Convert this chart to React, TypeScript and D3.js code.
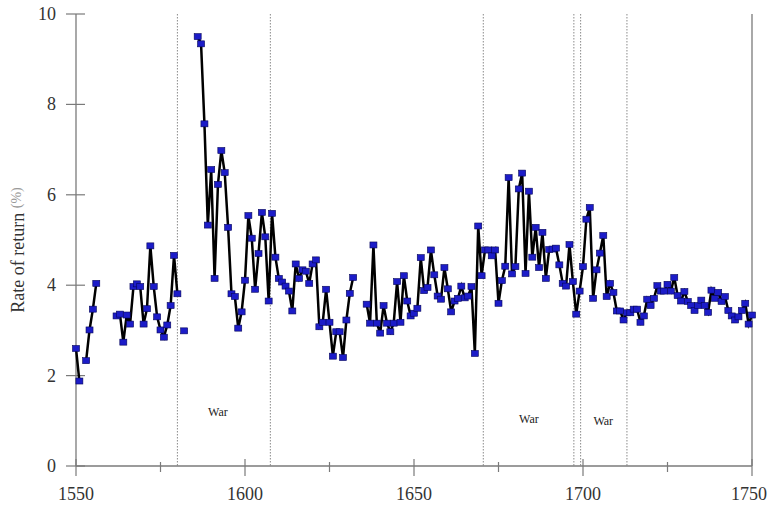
import React, { useRef, useEffect } from 'react';
import * as d3 from 'd3';

// yearly rate of return (%), first year 1550, null = no observation
const firstYear = 1550;
const rates: (number | null)[] = [
  2.60, 1.88, null, 2.33, 3.01, 3.47, 4.04, null, null, null, // 1550-1559
  null, null, 3.32, 3.36, 2.74, 3.34, 3.14, 3.97, 4.03, 3.97, // 1560-1569
  3.14, 3.48, 4.87, 3.97, 3.30, 3.01, 2.85, 3.12, 3.55, 4.66, // 1570-1579
  3.81, null, 2.99, null, null, null, 9.50, 9.34, 7.57, 5.33, // 1580-1589
  6.56, 4.15, 6.23, 6.98, 6.49, 5.28, 3.81, 3.75, 3.05, 3.41, // 1590-1599
  4.11, 5.54, 5.04, 3.91, 4.70, 5.61, 5.07, 3.65, 5.59, 4.62, // 1600-1609
  4.15, 4.07, 3.98, 3.87, 3.43, 4.47, 4.15, 4.34, 4.31, 4.04, // 1610-1619
  4.47, 4.56, 3.08, 3.18, 3.91, 3.18, 2.43, 2.97, 2.97, 2.40, // 1620-1629
  3.23, 3.82, 4.17, null, null, null, 3.58, 3.16, 4.89, 3.16, // 1630-1639
  2.94, 3.55, 3.16, 2.97, 3.16, 4.08, 3.18, 4.21, 3.65, 3.32, // 1640-1649
  3.38, 3.49, 4.61, 3.88, 3.95, 4.78, 4.23, 3.76, 3.69, 4.39, // 1650-1659
  3.92, 3.41, 3.65, 3.71, 3.98, 3.72, 3.76, 3.97, 2.49, 5.31, // 1660-1669
  4.21, 4.78, 4.78, 4.65, 4.78, 3.60, 4.10, 4.42, 6.38, 4.25, // 1670-1679
  4.41, 6.13, 6.48, 4.26, 6.08, 4.62, 5.28, 4.39, 5.17, 4.15, // 1680-1689
  4.79, 4.80, 4.82, 4.45, 4.04, 3.98, 4.90, 4.08, 3.36, 3.87, // 1690-1699
  4.41, 5.46, 5.72, 3.71, 4.34, 4.71, 5.10, 3.75, 4.04, 3.84, // 1700-1709
  3.43, 3.43, 3.23, 3.39, 3.39, 3.47, 3.47, 3.18, 3.32, 3.69, // 1710-1719
  3.55, 3.71, 3.99, 3.87, 3.87, 4.02, 3.87, 4.17, 3.77, 3.65, // 1720-1729
  3.86, 3.64, 3.55, 3.44, 3.55, 3.67, 3.55, 3.40, 3.89, 3.71, // 1730-1739
  3.84, 3.64, 3.75, 3.44, 3.32, 3.23, 3.30, 3.44, 3.60, 3.14, // 1740-1749
  3.34,                                                       // 1750
];

const warLines = [1580, 1607.5, 1670.5, 1697.3, 1699.3, 1713];
const warLabelYears = [1592, 1684, 1706];
const warLabelValues = [1.1, 0.95, 0.9];

const xTicks = [1550, 1600, 1650, 1700, 1750];
const xMinorTicks = [1575, 1625, 1675, 1725];
const yTicks = [0, 2, 4, 6, 8, 10];

const App = () => {
  const svgRef = useRef<SVGSVGElement>(null);

  useEffect(() => {
    const svg = d3.select(svgRef.current);
    svg.selectAll('*').remove();

    const width = 767;
    const height = 507;
    const axisColor = '#7a7a7a';
    const font = 'Liberation Serif, DejaVu Serif, serif';

    const x = d3.scaleLinear().domain([1550, 1750]).range([76, 752]);
    const y = d3.scaleLinear().domain([0, 10]).range([466, 14]);

    const data = rates.map((v, i) => ({ year: firstYear + i, value: v }));

    svg.attr('width', width).attr('height', height);

    // war period markers
    svg.append('g')
      .selectAll('line')
      .data(warLines)
      .join('line')
      .attr('x1', d => x(d))
      .attr('x2', d => x(d))
      .attr('y1', y(10))
      .attr('y2', y(0))
      .attr('stroke', '#8a8a8a')
      .attr('stroke-width', 1)
      .attr('stroke-dasharray', '1.5,1.5');

    svg.append('g')
      .selectAll('text')
      .data(warLabelYears)
      .join('text')
      .attr('x', d => x(d))
      .attr('y', (d, i) => y(warLabelValues[i]))
      .attr('text-anchor', 'middle')
      .style('font-family', font)
      .style('font-size', '12px')
      .attr('fill', '#222')
      .text('War');

    // axes
    const g = svg.append('g');
    g.append('line')
      .attr('x1', x(1550)).attr('x2', x(1550))
      .attr('y1', y(10)).attr('y2', y(0))
      .attr('stroke', axisColor).attr('stroke-width', 1.3);
    g.append('line')
      .attr('x1', x(1750)).attr('x2', x(1750))
      .attr('y1', y(10)).attr('y2', y(0))
      .attr('stroke', axisColor).attr('stroke-width', 1.3);
    g.append('line')
      .attr('x1', x(1550)).attr('x2', x(1750))
      .attr('y1', y(0)).attr('y2', y(0))
      .attr('stroke', axisColor).attr('stroke-width', 1.3);

    g.selectAll('.ytick')
      .data(yTicks)
      .join('line')
      .attr('class', 'ytick')
      .attr('x1', x(1550) - 10).attr('x2', x(1550) + 9)
      .attr('y1', d => y(d)).attr('y2', d => y(d))
      .attr('stroke', axisColor).attr('stroke-width', 1.2);

    g.selectAll('.ylabel')
      .data(yTicks)
      .join('text')
      .attr('class', 'ylabel')
      .attr('x', 56)
      .attr('y', d => y(d) + 6)
      .attr('text-anchor', 'end')
      .style('font-family', font)
      .style('font-size', '18px')
      .attr('fill', '#333')
      .text(d => d);

    g.selectAll('.xtick')
      .data(xTicks)
      .join('line')
      .attr('class', 'xtick')
      .attr('x1', d => x(d)).attr('x2', d => x(d))
      .attr('y1', y(0) - 7).attr('y2', y(0) + 10)
      .attr('stroke', axisColor).attr('stroke-width', 1.2);

    g.selectAll('.xminor')
      .data(xMinorTicks)
      .join('line')
      .attr('class', 'xminor')
      .attr('x1', d => x(d)).attr('x2', d => x(d))
      .attr('y1', y(0) - 4).attr('y2', y(0) + 6)
      .attr('stroke', axisColor).attr('stroke-width', 1.2);

    g.selectAll('.xlabel')
      .data(xTicks)
      .join('text')
      .attr('class', 'xlabel')
      .attr('x', d => Math.min(x(d), width - 18))
      .attr('y', 500)
      .attr('text-anchor', 'middle')
      .style('font-family', font)
      .style('font-size', '18px')
      .attr('fill', '#333')
      .text(d => d);

    const title = svg.append('text')
      .attr('transform', 'translate(24, 250) rotate(-90)')
      .attr('text-anchor', 'middle')
      .style('font-family', font)
      .style('font-size', '18px')
      .attr('fill', '#333');
    title.append('tspan').text('Rate of return ');
    title.append('tspan')
      .style('font-size', '14px')
      .attr('fill', '#9a9a9a')
      .attr('dy', -3)
      .text('(%)');

    // series line
    const line = d3.line<{ year: number; value: number | null }>()
      .defined(d => d.value !== null)
      .x(d => x(d.year))
      .y(d => y(d.value as number));

    svg.append('path')
      .datum(data)
      .attr('d', line)
      .attr('fill', 'none')
      .attr('stroke', '#000')
      .attr('stroke-width', 2.5)
      .attr('stroke-linejoin', 'miter');

    svg.append('g')
      .selectAll('rect')
      .data(data.filter(d => d.value !== null))
      .join('rect')
      .attr('x', d => x(d.year) - 3.5)
      .attr('y', d => y(d.value as number) - 3)
      .attr('width', 7)
      .attr('height', 6)
      .attr('fill', '#1c1cc8')
      .attr('stroke', '#06065a')
      .attr('stroke-width', 0.6);
  }, []);

  return (
    <div style={{ position: 'absolute', left: 0, top: 0 }}>
      <svg ref={svgRef} style={{ display: 'block', background: '#fff' }}></svg>
    </div>
  );
};

export default App;
